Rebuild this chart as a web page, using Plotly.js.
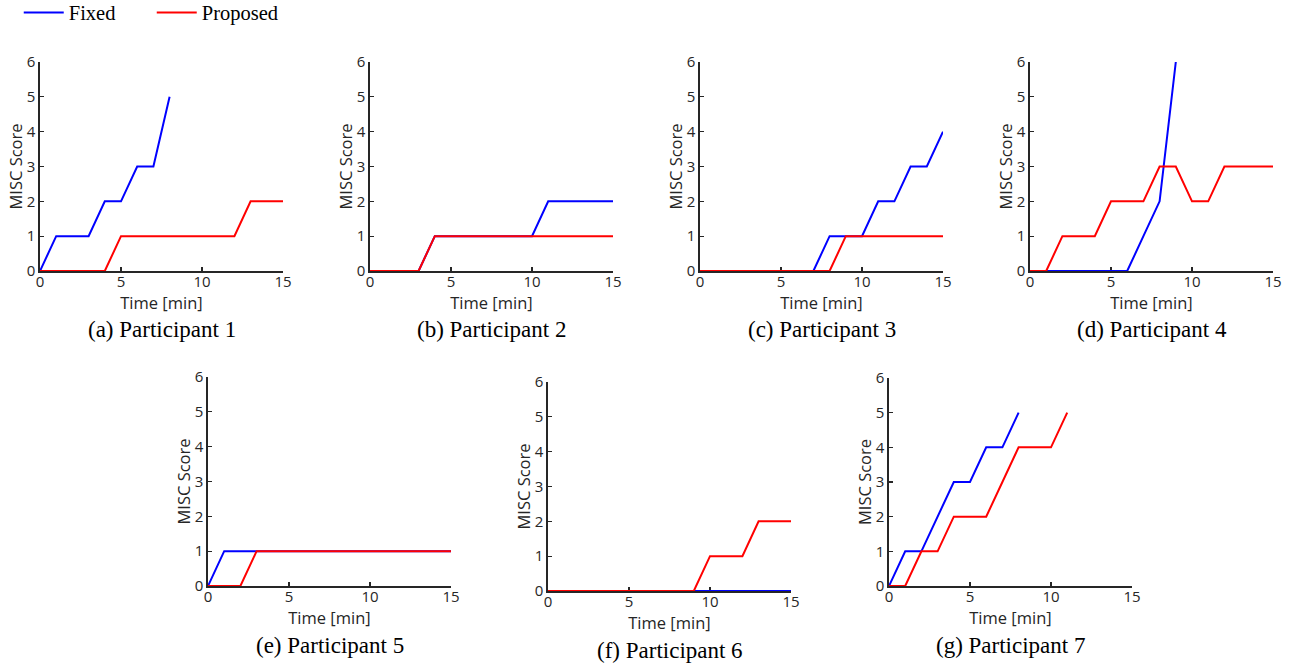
<!DOCTYPE html>
<html><head><meta charset="utf-8">
<script src="https://cdn.plot.ly/plotly-3.0.1.min.js"></script>
<style>body{margin:0;background:#fff}#chart{width:1293px;height:667px}</style>
</head><body><div id="chart"></div>
<script>
// ---- data ----
const seriesNames = ["Fixed", "Proposed"];
const captions = ["(a) Participant 1", "(b) Participant 2", "(c) Participant 3", "(d) Participant 4",
                  "(e) Participant 5", "(f) Participant 6", "(g) Participant 7"];
const xTickVals = [0, 5, 10, 15];
const yTickVals = [0, 1, 2, 3, 4, 5, 6];
const xAxisTitle = "Time [min]";
const yAxisTitle = "MISC Score";

const p1FixedTime = [0,1,2,3,4,5,6,7,8];
const p1FixedScore = [0,1,1,1,2,2,3,3,5];
const p1PropTime = [0,1,2,3,4,5,6,7,8,9,10,11,12,13,14,15];
const p1PropScore = [0,0,0,0,0,1,1,1,1,1,1,1,1,2,2,2];

const p2FixedTime = [0,1,2,3,4,5,6,7,8,9,10,11,12,13,14,15];
const p2FixedScore = [0,0,0,0,1,1,1,1,1,1,1,2,2,2,2,2];
const p2PropTime = [0,1,2,3,4,5,6,7,8,9,10,11,12,13,14,15];
const p2PropScore = [0,0,0,0,1,1,1,1,1,1,1,1,1,1,1,1];

const p3FixedTime = [0,1,2,3,4,5,6,7,8,9,10,11,12,13,14,15];
const p3FixedScore = [0,0,0,0,0,0,0,0,1,1,1,2,2,3,3,4];
const p3PropTime = [0,1,2,3,4,5,6,7,8,9,10,11,12,13,14,15];
const p3PropScore = [0,0,0,0,0,0,0,0,0,1,1,1,1,1,1,1];

const p4FixedTime = [0,1,2,3,4,5,6,7,8,9];
const p4FixedScore = [0,0,0,0,0,0,0,1,2,6];
const p4PropTime = [0,1,2,3,4,5,6,7,8,9,10,11,12,13,14,15];
const p4PropScore = [0,0,1,1,1,2,2,2,3,3,2,2,3,3,3,3];

const p5FixedTime = [0,1,2,3,4,5,6,7,8,9,10,11,12,13,14,15];
const p5FixedScore = [0,1,1,1,1,1,1,1,1,1,1,1,1,1,1,1];
const p5PropTime = [0,1,2,3,4,5,6,7,8,9,10,11,12,13,14,15];
const p5PropScore = [0,0,0,1,1,1,1,1,1,1,1,1,1,1,1,1];

const p6FixedTime = [0,1,2,3,4,5,6,7,8,9,10,11,12,13,14,15];
const p6FixedScore = [0,0,0,0,0,0,0,0,0,0,0,0,0,0,0,0];
const p6PropTime = [0,1,2,3,4,5,6,7,8,9,10,11,12,13,14,15];
const p6PropScore = [0,0,0,0,0,0,0,0,0,0,1,1,1,2,2,2];

const p7FixedTime = [0,1,2,3,4,5,6,7,8];
const p7FixedScore = [0,1,1,2,3,3,4,4,5];
const p7PropTime = [0,1,2,3,4,5,6,7,8,9,10,11];
const p7PropScore = [0,0,1,1,2,2,2,3,4,4,4,5];

const fixedTimes = [p1FixedTime,p2FixedTime,p3FixedTime,p4FixedTime,p5FixedTime,p6FixedTime,p7FixedTime];
const fixedScores = [p1FixedScore,p2FixedScore,p3FixedScore,p4FixedScore,p5FixedScore,p6FixedScore,p7FixedScore];
const propTimes = [p1PropTime,p2PropTime,p3PropTime,p4PropTime,p5PropTime,p6PropTime,p7PropTime];
const propScores = [p1PropScore,p2PropScore,p3PropScore,p4PropScore,p5PropScore,p6PropScore,p7PropScore];

// ---- layout (pixel boxes of each subplot: left, right, top, bottom) ----
const W = 1293, H = 667;
const boxes = [
  [40, 283, 62, 271], [370, 613, 62, 271], [700, 943, 62, 271], [1030, 1273, 62, 271],
  [208, 451, 377, 586], [548, 791, 382, 591], [889, 1132, 378, 586]
];
const colors = ["#0000ff", "#ff0000"];
const axisColor = "#262626";
const sansFont = "Open Sans";
const serifFont = "Liberation Serif";

const traces = [];
const layout = {
  width: W, height: H,
  margin: {l: 0, r: 0, t: 0, b: 0, autoexpand: false},
  paper_bgcolor: "#fff", plot_bgcolor: "#fff",
  showlegend: true,
  legend: {orientation: "h", x: 0.0145, y: 1.011, xanchor: "left", yanchor: "top",
           font: {family: serifFont, size: 20.5, color: "#000"}, bgcolor: "rgba(0,0,0,0)",
           entrywidth: 78, itemwidth: 40},
  annotations: []
};

boxes.forEach((b, i) => {
  const k = i + 1;
  const xa = "x" + (k === 1 ? "" : k), ya = "y" + (k === 1 ? "" : k);
  traces.push({x: fixedTimes[i], y: fixedScores[i], type: "scatter", mode: "lines",
    name: seriesNames[0], legendgroup: "f", showlegend: i === 0, cliponaxis: false,
    line: {color: colors[0], width: 2}, xaxis: xa, yaxis: ya});
  traces.push({x: propTimes[i], y: propScores[i], type: "scatter", mode: "lines",
    name: seriesNames[1], legendgroup: "p", showlegend: i === 0, cliponaxis: false,
    line: {color: colors[1], width: 2}, xaxis: xa, yaxis: ya});
  const common = {showline: true, linecolor: axisColor, linewidth: 1.6, ticks: "inside",
    ticklen: 4, tickwidth: 1.2, tickcolor: axisColor, showgrid: false, zeroline: false,
    layer: "below traces",
    tickfont: {family: sansFont, size: 15, color: axisColor}, fixedrange: true, automargin: false};
  layout["xaxis" + (k === 1 ? "" : k)] = Object.assign({}, common, {
    domain: [b[0] / W, b[1] / W], anchor: ya, range: [0, 15], tickvals: xTickVals,
    ticklabelstandoff: -4,
    title: {text: xAxisTitle, font: {family: sansFont, size: 16.5, color: axisColor}, standoff: 0}
  });
  layout["yaxis" + (k === 1 ? "" : k)] = Object.assign({}, common, {
    domain: [(H - b[3]) / H, (H - b[2]) / H], anchor: xa, range: [0, 6], tickvals: yTickVals,
    title: {text: yAxisTitle, font: {family: sansFont, size: 16.5, color: axisColor}, standoff: 0}
  });
  layout.annotations.push({text: captions[i], xref: "paper", yref: "paper",
    x: (b[0] + b[1]) / 2 / W, y: (H - (b[3] + 59)) / H, xanchor: "center", yanchor: "middle",
    showarrow: false, font: {family: serifFont, size: 23, color: "#000"}});
});

Plotly.newPlot("chart", traces, layout, {displayModeBar: false, staticPlot: true});
</script>
</body></html>
